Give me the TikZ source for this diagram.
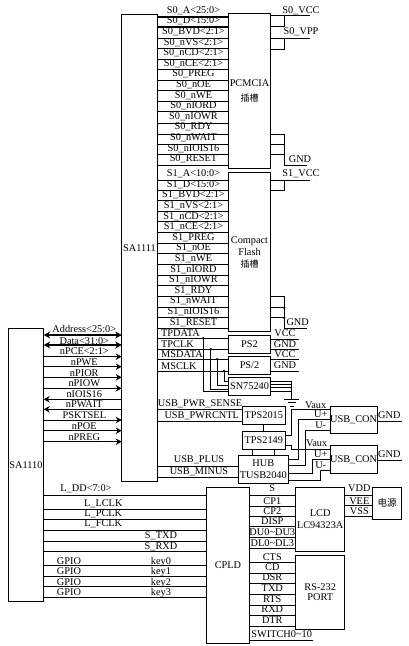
\documentclass[tikz,border=0pt]{standalone}
\usepackage{fontspec}
\setmainfont{Liberation Serif}
\newfontfamily\cjk{Noto Sans CJK SC}
\usetikzlibrary{arrows.meta}

\begin{document}
\begin{tikzpicture}[
    x=1pt,
    y=-1pt,
    chip/.style={
        draw,
        line width=0.9pt,
        inner sep=0pt,
        outer sep=0pt,
        align=center,
        font=\fontsize{10.3}{12}\selectfont
    },
    sig/.style={
        anchor=base,
        inner sep=0pt,
        font=\fontsize{10.3}{12}\selectfont
    },
    dot/.style={
        circle,
        fill=black,
        inner sep=0pt,
        minimum size=2.8pt
    },
    wire/.style={line width=0.9pt},
    bus/.style={line width=1.7pt},
    arrow/.style={-{Stealth[length=6pt,width=6.5pt]}, line width=0.9pt},
    backarrow/.style={{Stealth[length=6pt,width=6.5pt]}-, line width=0.9pt},
    busarrow/.style={{Stealth[length=6.5pt,width=7pt]}-{Stealth[length=6.5pt,width=7pt]}, line width=1.7pt}
]
\useasboundingbox (0,0) rectangle (409,646);

% Row 0: chips
\node[chip, minimum width=35.6pt, minimum height=467.8pt] (sa1111) at (139.5,247.9) {SA1111};
\node[chip, minimum width=35.4pt, minimum height=273.4pt] (sa1110) at (26,465) {SA1110};
\node[chip, minimum width=42pt, minimum height=154.3pt] (pcmcia) at (249.5,90.8) {PCMCIA\\[3.5pt]{\cjk\fontsize{9}{10}\selectfont 插槽}};
\node[chip, minimum width=42.4pt, minimum height=159.4pt] (cflash) at (249.5,252) {Compact\\Flash\\{\cjk\fontsize{9}{10}\selectfont 插槽}};
\node[chip, minimum width=42.4pt, minimum height=17.6pt] (ps2a) at (249.5,344.5) {PS2};
\node[chip, minimum width=42.4pt, minimum height=17.6pt] (ps2b) at (249.5,365.5) {PS/2};
\node[chip, minimum width=42.4pt, minimum height=18.4pt] (sn) at (249.5,386.5) {SN75240};
\node[chip, minimum width=42.3pt, minimum height=17.6pt] (tpsa) at (263.8,415.5) {TPS2015};
\node[chip, minimum width=42.3pt, minimum height=17.3pt] (tpsb) at (263.8,440.3) {TPS2149};
\node[chip, minimum width=50pt, minimum height=28pt] (hub) at (263.3,469.3) {HUB\\TUSB2040};
\node[chip, minimum width=46.7pt, minimum height=26.6pt] (cona) at (353.6,420) {USB\_CON};
\node[chip, minimum width=46.7pt, minimum height=27.6pt] (conb) at (353.6,459.5) {USB\_CON};
\node[chip, minimum width=42.6pt, minimum height=156pt] (cpld) at (228,565.3) {CPLD};
\node[chip, minimum width=49pt, minimum height=63.7pt] (lcd) at (320.2,519.2) {LCD\\LC94323A};
\node[chip, minimum width=49pt, minimum height=74pt] (rs) at (320.2,592.3) {RS-232\\[-2pt]PORT};
\node[chip, minimum width=29.4pt, minimum height=32pt] (power) at (387,503.3) {{\cjk\fontsize{9.5}{10}\selectfont 电源}};

% Row 1: PCMCIA signals
\node[sig] (s0a) at (193.5,13.3) {S0\_A<25:0>};
\node[sig] (s0d) at (193.5,23.9) {S0\_D<15:0>};
\node[sig] (s0bvd) at (193.5,34.5) {S0\_BVD<2:1>};
\node[sig] (s0nvs) at (193.5,45.1) {S0\_nVS<2:1>};
\node[sig] (s0ncd) at (193.5,55.7) {S0\_nCD<2:1>};
\node[sig] (s0nce) at (193.5,66.3) {S0\_nCE<2:1>};
\node[sig] (s0preg) at (193.5,76.9) {S0\_PREG};
\node[sig] (s0noe) at (193.5,87.5) {S0\_nOE};
\node[sig] (s0nwe) at (193.5,98.1) {S0\_nWE};
\node[sig] (s0niord) at (193.5,108.7) {S0\_nIORD};
\node[sig] (s0niowr) at (193.5,119.3) {S0\_nIOWR};
\node[sig] (s0rdy) at (193.5,129.9) {S0\_RDY};
\node[sig] (s0nwait) at (193.5,140.5) {S0\_nWAIT};
\node[sig] (s0niois) at (193.5,151.1) {S0\_nIOIS16};
\node[sig] (s0reset) at (193.5,161.7) {S0\_RESET};
\node[sig] (s0vcc) at (301,13.3) {S0\_VCC};
\node[sig] (s0vpp) at (301,34.5) {S0\_VPP};
\node[sig] (s0gnd) at (300,162.5) {GND};

% Row 2: Compact Flash signals
\node[sig] (s1a) at (193.5,176.6) {S1\_A<10:0>};
\node[sig] (s1d) at (193.5,187.2) {S1\_D<15:0>};
\node[sig] (s1bvd) at (193.5,197.8) {S1\_BVD<2:1>};
\node[sig] (s1nvs) at (193.5,208.4) {S1\_nVS<2:1>};
\node[sig] (s1ncd) at (193.5,219) {S1\_nCD<2:1>};
\node[sig] (s1nce) at (193.5,229.6) {S1\_nCE<2:1>};
\node[sig] (s1preg) at (193.5,240.2) {S1\_PREG};
\node[sig] (s1noe) at (193.5,250.8) {S1\_nOE};
\node[sig] (s1nwe) at (193.5,261.4) {S1\_nWE};
\node[sig] (s1niord) at (193.5,272) {S1\_nIORD};
\node[sig] (s1niowr) at (193.5,282.6) {S1\_nIOWR};
\node[sig] (s1rdy) at (193.5,293.2) {S1\_RDY};
\node[sig] (s1nwait) at (193.5,303.8) {S1\_nWAIT};
\node[sig] (s1niois) at (193.5,314.4) {S1\_nIOIS16};
\node[sig] (s1reset) at (193.5,325) {S1\_RESET};
\node[sig] (s1vcc) at (301,176.6) {S1\_VCC};
\node[sig] (s1gnd) at (297.7,325.6) {GND};

% Row 3: PS/2 signals
\node[sig, anchor=base west] (tpdata) at (161,336.6) {TPDATA};
\node[sig, anchor=base west] (tpclk) at (161,347.3) {TPCLK};
\node[sig, anchor=base west] (msdata) at (161,357.6) {MSDATA};
\node[sig, anchor=base west] (msclk) at (161,369) {MSCLK};
\node[sig] (vcca) at (285,336.6) {VCC};
\node[sig] (gnda) at (285,347.6) {GND};
\node[sig] (vccb) at (285,357.6) {VCC};
\node[sig] (gndb) at (285,368.3) {GND};

% Row 4: USB signals
\node[sig] (pwrsense) at (200,406.6) {USB\_PWR\_SENSE};
\node[sig] (pwrcntl) at (201.7,418.3) {USB\_PWRCNTL};
\node[sig] (usbplus) at (199,462.6) {USB\_PLUS};
\node[sig] (usbminus) at (199,474) {USB\_MINUS};
\node[sig] (vauxa) at (315.7,408.3) {Vaux};
\node[sig] (upa) at (320.7,417.6) {U+};
\node[sig] (uma) at (320.7,428.6) {U-};
\node[sig] (vauxb) at (316.7,446) {Vaux};
\node[sig] (upb) at (320.7,457) {U+};
\node[sig] (umb) at (320.7,468) {U-};
\node[sig] (gndc) at (389.3,418.3) {GND};
\node[sig] (gndd) at (389.3,457.6) {GND};

% Row 5: SA1110 signals
\node[sig] (address) at (84.3,332.6) {Address<25:0>};
\node[sig] (data) at (84.3,344) {Data<31:0>};
\node[sig] (npce) at (84.3,354) {nPCE<2:1>};
\node[sig] (npwe) at (84.3,365) {nPWE};
\node[sig] (npior) at (84.3,376) {nPIOR};
\node[sig] (npiow) at (84.3,386) {nPIOW};
\node[sig] (niois) at (84.3,397.3) {nIOIS16};
\node[sig] (npwait) at (84.3,407.6) {nPWAIT};
\node[sig] (psktsel) at (84.3,418.3) {PSKTSEL};
\node[sig] (npoe) at (84.3,429.3) {nPOE};
\node[sig] (npreg) at (84.3,440) {nPREG};

% Row 6: CPLD inputs
\node[sig] (lldd) at (86,491.6) {L\_DD<7:0>};
\node[sig] (llclk) at (103.3,506) {L\_LCLK};
\node[sig] (lpclk) at (103.3,516.6) {L\_PCLK};
\node[sig] (lfclk) at (103.3,526.6) {L\_FCLK};
\node[sig] (stxd) at (161,538.3) {S\_TXD};
\node[sig] (srxd) at (161,549) {S\_RXD};
\node[sig] (gpioa) at (69,564) {GPIO};
\node[sig] (gpiob) at (69,574) {GPIO};
\node[sig] (gpioc) at (69,585) {GPIO};
\node[sig] (gpiod) at (69,595.6) {GPIO};
\node[sig] (keya) at (161,564) {key0};
\node[sig] (keyb) at (161,574) {key1};
\node[sig] (keyc) at (161,585) {key2};
\node[sig] (keyd) at (161,595.6) {key3};

% Row 7: CPLD outputs
\node[sig] (ls) at (272.3,491.6) {S};
\node[sig] (lcpa) at (272.3,504) {CP1};
\node[sig] (lcpb) at (272.3,514) {CP2};
\node[sig] (ldisp) at (272.3,524) {DISP};
\node[sig] (ldu) at (272.3,535) {DU0\textasciitilde DU3};
\node[sig] (ldl) at (272.3,546) {DL0\textasciitilde DL3};
\node[sig] (cts) at (272.3,560) {CTS};
\node[sig] (cd) at (272.3,570) {CD};
\node[sig] (dsr) at (272.3,580.6) {DSR};
\node[sig] (txd) at (272.3,591.6) {TXD};
\node[sig] (rts) at (272.3,602.6) {RTS};
\node[sig] (rxd) at (272.3,612.6) {RXD};
\node[sig] (dtr) at (272.3,623.3) {DTR};
\node[sig] (switch) at (281.7,637.6) {SWITCH0\textasciitilde 10};
\node[sig] (vdd) at (359.3,491.6) {VDD};
\node[sig] (vee) at (359.3,504) {VEE};
\node[sig] (vss) at (359.3,514.3) {VSS};

% Junction dots
\node[dot] (dotcfa) at (284.3,307.7) {};
\node[dot] (dotcfb) at (284.3,317.7) {};
\node[dot] (dotta) at (203.3,338.3) {};
\node[dot] (dottb) at (210.7,349.3) {};
\node[dot] (dotma) at (217.3,359.3) {};
\node[dot] (dotmb) at (224,371) {};

% Free ends and taps
\coordinate (s0vccend) at (310,15.7);
\coordinate (s0vcctap) at (284.3,15.7);
\coordinate (s0vppend) at (310,38.3);
\coordinate (s0vpptap) at (284.3,38.3);
\coordinate (s0gndtap) at (284.3,165);
\coordinate (s0gndend) at (306.7,165);
\coordinate (s1vccend) at (310,180);
\coordinate (s1vcctap) at (284.3,180);
\coordinate (s1gndtap) at (284.3,328.4);
\coordinate (s1gndend) at (306.7,328.4);
\coordinate (psend) at (299,0);
\coordinate (sntap) at (291.7,381);
\coordinate (gndtop) at (291.7,399);
\coordinate (gndmid) at (291.7,402.7);
\coordinate (gndlow) at (291.7,406);
\coordinate (conaend) at (402.3,421);
\coordinate (conbend) at (402.3,460);
\coordinate (switchend) at (313.3,640);

% === WIRES ===

% PCMCIA buses
\draw[bus] (sa1111.east |- 0,16.7) -- (pcmcia.west |- 0,16.7);
\draw[bus] (sa1111.east |- 0,26.7) -- (pcmcia.west |- 0,26.7);

% PCMCIA controls
\draw[wire] (sa1111.east |- 0,38.3) -- (pcmcia.west |- 0,38.3);
\draw[wire] (sa1111.east |- 0,48.6) -- (pcmcia.west |- 0,48.6);
\draw[wire] (sa1111.east |- 0,59.3) -- (pcmcia.west |- 0,59.3);
\draw[wire] (sa1111.east |- 0,69.6) -- (pcmcia.west |- 0,69.6);
\draw[wire] (sa1111.east |- 0,80) -- (pcmcia.west |- 0,80);
\draw[wire] (sa1111.east |- 0,90.7) -- (pcmcia.west |- 0,90.7);
\draw[wire] (sa1111.east |- 0,101.7) -- (pcmcia.west |- 0,101.7);
\draw[wire] (sa1111.east |- 0,111.7) -- (pcmcia.west |- 0,111.7);
\draw[wire] (sa1111.east |- 0,123) -- (pcmcia.west |- 0,123);
\draw[wire] (sa1111.east |- 0,134) -- (pcmcia.west |- 0,134);
\draw[wire] (sa1111.east |- 0,144) -- (pcmcia.west |- 0,144);
\draw[wire] (sa1111.east |- 0,154) -- (pcmcia.west |- 0,154);
\draw[wire] (sa1111.east |- 0,165) -- (pcmcia.west |- 0,165);

% PCMCIA power
\draw[wire] (pcmcia.east |- s0vccend) -- (s0vccend);
\draw[wire] (pcmcia.east |- 0,26.7) -| (s0vcctap);
\draw[wire] (pcmcia.east |- s0vppend) -- (s0vppend);
\draw[wire] (pcmcia.east |- 0,49.3) -| (s0vpptap);
\draw[wire] (pcmcia.east |- 0,134) -| (s0gndtap) -- (s0gndend);
\draw[wire] (pcmcia.east |- 0,144) -- (s0gndtap |- 0,144);
\draw[wire] (pcmcia.east |- 0,154) -- (s0gndtap |- 0,154);

% Compact Flash signals
\draw[wire] (sa1111.east |- 0,180) -- (cflash.west |- 0,180);
\draw[wire] (sa1111.east |- 0,190.4) -- (cflash.west |- 0,190.4);
\draw[wire] (sa1111.east |- 0,200.6) -- (cflash.west |- 0,200.6);
\draw[wire] (sa1111.east |- 0,211.7) -- (cflash.west |- 0,211.7);
\draw[wire] (sa1111.east |- 0,221.7) -- (cflash.west |- 0,221.7);
\draw[wire] (sa1111.east |- 0,232.3) -- (cflash.west |- 0,232.3);
\draw[wire] (sa1111.east |- 0,243.3) -- (cflash.west |- 0,243.3);
\draw[wire] (sa1111.east |- 0,253.7) -- (cflash.west |- 0,253.7);
\draw[wire] (sa1111.east |- 0,264.3) -- (cflash.west |- 0,264.3);
\draw[wire] (sa1111.east |- 0,275) -- (cflash.west |- 0,275);
\draw[wire] (sa1111.east |- 0,285.7) -- (cflash.west |- 0,285.7);
\draw[wire] (sa1111.east |- 0,296.7) -- (cflash.west |- 0,296.7);
\draw[wire] (sa1111.east |- 0,307.7) -- (cflash.west |- 0,307.7);
\draw[wire] (sa1111.east |- 0,317.7) -- (cflash.west |- 0,317.7);
\draw[wire] (sa1111.east |- 0,328.4) -- (cflash.west |- 0,328.4);

% Compact Flash power
\draw[wire] (cflash.east |- s1vccend) -- (s1vccend);
\draw[wire] (cflash.east |- 0,190) -| (s1vcctap);
\draw[wire] (cflash.east |- 0,296.7) -| (s1gndtap) -- (s1gndend);
\draw[wire] (cflash.east |- dotcfa) -- (dotcfa);
\draw[wire] (cflash.east |- dotcfb) -- (dotcfb);

% PS/2 ports
\draw[wire] (sa1111.east |- 0,338.3) -- (ps2a.west |- 0,338.3);
\draw[wire] (sa1111.east |- 0,349.3) -- (ps2a.west |- 0,349.3);
\draw[wire] (sa1111.east |- 0,359.3) -- (ps2b.west |- 0,359.3);
\draw[wire] (sa1111.east |- 0,371) -- (ps2b.west |- 0,371);
\draw[wire] (ps2a.east |- 0,339.3) -- (psend |- 0,339.3);
\draw[wire] (ps2a.east |- 0,349.3) -- (psend |- 0,349.3);
\draw[wire] (ps2b.east |- 0,359.3) -- (psend |- 0,359.3);
\draw[wire] (ps2b.east |- 0,371) -- (psend |- 0,371);

% SN75240 taps
\draw[wire] (dotta.center) |- (sn.west |- 0,391.7);
\draw[wire] (dottb.center) |- (sn.west |- 0,389);
\draw[wire] (dotma.center) |- (sn.west |- 0,385.3);
\draw[wire] (dotmb.center) |- (sn.west |- 0,381.7);

% SN75240 ground
\draw[wire] (sn.east |- sntap) -- (sntap) -- (gndtop);
\draw[wire] (sn.east |- 0,384.3) -- (sntap |- 0,384.3);
\draw[wire] (sn.east |- 0,387.7) -- (sntap |- 0,387.7);
\draw[wire] (sn.east |- 0,391) -- (sntap |- 0,391);
\draw[wire] ([xshift=-7.5pt]gndtop) -- ([xshift=7.5pt]gndtop);
\draw[wire] ([xshift=-4pt]gndmid) -- ([xshift=4pt]gndmid);
\draw[wire] ([xshift=-2pt]gndlow) -- ([xshift=2pt]gndlow);

% USB power switches
\draw[wire] (sa1111.east |- 0,409.3) -- (tpsa.west |- 0,409.3);
\draw[wire] (sa1111.east |- 0,421) -- (tpsa.west |- 0,421);
\draw[wire] (tpsa) -- (tpsb);
\draw[wire] (tpsb.south -| 252.3,0) -- (hub.north -| 252.3,0);
\draw[wire] (tpsb.south -| 274,0) -- (hub.north -| 274,0);

% USB hub
\draw[wire] (sa1111.east |- 0,466) -- (hub.west |- 0,466);
\draw[wire] (sa1111.east |- 0,477.3) -- (hub.west |- 0,477.3);

% First USB port
\draw[wire] (tpsb.east |- 0,435) -- (291.7,435) |- (cona.west |- 0,409.3);
\draw[wire] (hub.east |- 0,459.3) -- (298.3,459.3) |- (cona.west |- 0,419);
\draw[wire] (hub.east |- 0,465.7) -- (305.7,465.7) |- (cona.west |- 0,430);
\draw[wire] (cona.east |- conaend) -- (conaend);

% Second USB port
\draw[wire] (tpsb.east |- 0,445) -- (291.7,445) |- (conb.west |- 0,449);
\draw[wire] (hub.east |- 0,473.3) -- (312.7,473.3) |- (conb.west |- 0,459.3);
\draw[wire] (hub.east |- 0,480.7) -- (320,480.7) |- (conb.west |- 0,470);
\draw[wire] (conb.east |- conbend) -- (conbend);

% SA1110 to SA1111
\draw[busarrow] (sa1110.east |- 0,335) -- (sa1111.west |- 0,335);
\draw[busarrow] (sa1110.east |- 0,345) -- (sa1111.west |- 0,345);
\draw[arrow] (sa1110.east |- 0,356.7) -- (sa1111.west |- 0,356.7);
\draw[arrow] (sa1110.east |- 0,366.7) -- (sa1111.west |- 0,366.7);
\draw[arrow] (sa1110.east |- 0,377.3) -- (sa1111.west |- 0,377.3);
\draw[arrow] (sa1110.east |- 0,388.3) -- (sa1111.west |- 0,388.3);
\draw[backarrow] (sa1110.east |- 0,399.3) -- (sa1111.west |- 0,399.3);
\draw[backarrow] (sa1110.east |- 0,409.3) -- (sa1111.west |- 0,409.3);
\draw[arrow] (sa1110.east |- 0,420) -- (sa1111.west |- 0,420);
\draw[arrow] (sa1110.east |- 0,430.7) -- (sa1111.west |- 0,430.7);
\draw[arrow] (sa1110.east |- 0,441.7) -- (sa1111.west |- 0,441.7);

% SA1110 to CPLD
\draw[wire] (sa1110.east |- 0,495) -- (cpld.west |- 0,495);
\draw[wire] (sa1110.east |- 0,509.3) -- (cpld.west |- 0,509.3);
\draw[wire] (sa1110.east |- 0,519.3) -- (cpld.west |- 0,519.3);
\draw[wire] (sa1110.east |- 0,530.3) -- (cpld.west |- 0,530.3);
\draw[wire] (sa1110.east |- 0,541) -- (cpld.west |- 0,541);
\draw[wire] (sa1110.east |- 0,551.7) -- (cpld.west |- 0,551.7);
\draw[wire] (sa1110.east |- 0,565.7) -- (cpld.west |- 0,565.7);
\draw[wire] (sa1110.east |- 0,576.3) -- (cpld.west |- 0,576.3);
\draw[wire] (sa1110.east |- 0,586.7) -- (cpld.west |- 0,586.7);
\draw[wire] (sa1110.east |- 0,597.3) -- (cpld.west |- 0,597.3);

% CPLD to LCD
\draw[wire] (cpld.east |- 0,495) -- (lcd.west |- 0,495);
\draw[wire] (cpld.east |- 0,506) -- (lcd.west |- 0,506);
\draw[wire] (cpld.east |- 0,516) -- (lcd.west |- 0,516);
\draw[wire] (cpld.east |- 0,526.7) -- (lcd.west |- 0,526.7);
\draw[wire] (cpld.east |- 0,537.3) -- (lcd.west |- 0,537.3);
\draw[wire] (cpld.east |- 0,548.3) -- (lcd.west |- 0,548.3);

% CPLD to RS-232
\draw[wire] (cpld.east |- 0,562.3) -- (rs.west |- 0,562.3);
\draw[wire] (cpld.east |- 0,573) -- (rs.west |- 0,573);
\draw[wire] (cpld.east |- 0,583.7) -- (rs.west |- 0,583.7);
\draw[wire] (cpld.east |- 0,594.3) -- (rs.west |- 0,594.3);
\draw[wire] (cpld.east |- 0,605) -- (rs.west |- 0,605);
\draw[wire] (cpld.east |- 0,615.7) -- (rs.west |- 0,615.7);
\draw[wire] (cpld.east |- 0,626.7) -- (rs.west |- 0,626.7);
\draw[wire] (cpld.east |- switchend) -- (switchend);

% LCD power
\draw[wire] (lcd.east |- 0,495) -- (power.west |- 0,495);
\draw[wire] (lcd.east |- 0,505.7) -- (power.west |- 0,505.7);
\draw[wire] (lcd.east |- 0,516) -- (power.west |- 0,516);

\end{tikzpicture}
\end{document}
